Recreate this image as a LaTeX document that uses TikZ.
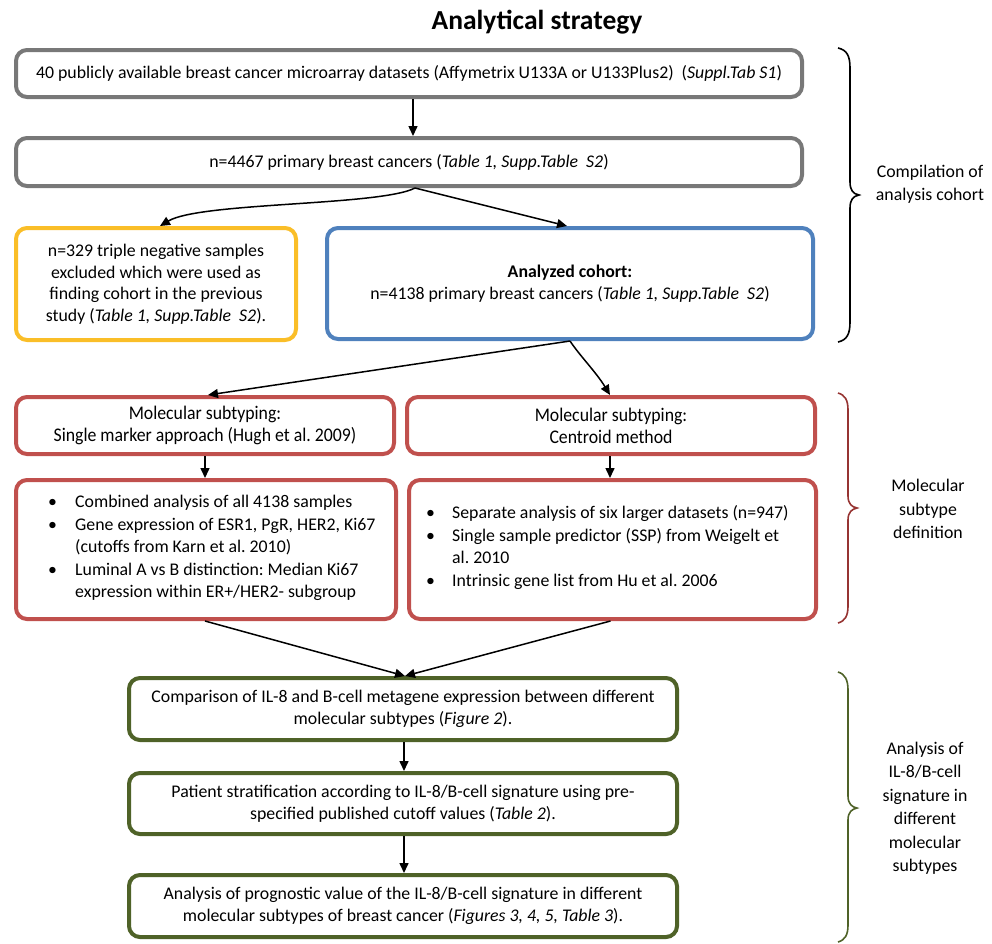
\documentclass[tikz,border=0pt]{standalone}
\usepackage{fontspec}
\setmainfont{Carlito}
\newfontfamily\condfont[FakeStretch=0.92]{Carlito}
\usetikzlibrary{arrows.meta}
\definecolor{cgray}{RGB}{120,120,120}
\definecolor{cyellow}{RGB}{250,190,40}
\definecolor{cblue}{RGB}{79,129,189}
\definecolor{cred}{RGB}{192,80,77}
\definecolor{cdred}{RGB}{150,52,50}
\definecolor{cgreen}{RGB}{79,98,40}
\tikzset{
  box/.style={draw, line width=4pt, rounded corners=11pt, fill=white, align=center, inner sep=0pt},
  arr/.style={line width=1.5pt, -{Triangle[length=10pt,width=9pt]}},
  brace/.style={line width=1.6pt},
  lbl/.style={align=center, font=\fontsize{17.8}{23.5}\selectfont},
  bl/.style={anchor=west, inner sep=0pt, align=left}
}
\begin{document}
\frenchspacing
\begin{tikzpicture}[x=1pt,y=-1pt, font=\fontsize{17.8}{21.5}\selectfont]
\useasboundingbox (0,0) rectangle (992,943);
\node (title) at (537,22) {\fontsize{27.5}{32}\selectfont\bfseries Analytical strategy};

\node[box, draw=cgray, minimum width=786pt, minimum height=47pt] (b1) at (409,73.5)
  {40 publicly available breast cancer microarray datasets (Affymetrix U133A or U133Plus2)~~(\textit{Suppl.Tab S1})};
\node[box, draw=cgray, minimum width=786pt, minimum height=48pt] (b2) at (409,162)
  {n=4467 primary breast cancers (\textit{Table 1, Supp.Table~~S2})};
\node[box, draw=cyellow, minimum width=280pt, minimum height=112pt] (yel) at (156,284)
  {n=329 triple negative samples\\excluded which were used as\\finding cohort in the previous\\study (\textit{Table 1, Supp.Table~~S2}).};
\node[box, draw=cblue, minimum width=486pt, minimum height=111pt] (blu) at (570,283.5)
  {\textbf{Analyzed cohort:}\\n=4138 primary breast cancers (\textit{Table 1, Supp.Table~~S2})};

\node[box, draw=cred, minimum width=378pt, minimum height=57pt, font=\condfont\fontsize{19.3}{22}\selectfont] (r1) at (205,425.5)
  {Molecular subtyping:\\Single marker approach (Hugh et al. 2009)};
\node[box, draw=cred, minimum width=408pt, minimum height=57pt, font=\condfont\fontsize{19.3}{22}\selectfont] (r2) at (611,425.5)
  {Molecular subtyping:\\Centroid method};
\node[box, draw=cred, minimum width=380pt, minimum height=139pt] (r3) at (206,549.5) {};
\node[box, draw=cred, minimum width=407pt, minimum height=139pt] (r4) at (612.5,549.5) {};
\node[bl, font=\fontsize{17.8}{22.5}\selectfont] (r3t) at (48,548)
  {\begin{tabular}{@{}p{27pt}@{}l@{}}
  \textbullet & Combined analysis of all 4138 samples\\
  \textbullet & Gene expression of ESR1, PgR, HER2, Ki67\\
   & (cutoffs from Karn et al. 2010)\\
  \textbullet & Luminal A vs B distinction: Median Ki67\\
   & expression within ER+/HER2- subgroup
  \end{tabular}};
\node[bl, font=\fontsize{17.8}{22.5}\selectfont] (r4t) at (426,548)
  {\begin{tabular}{@{}p{26pt}@{}l@{}}
  \textbullet & Separate analysis of six larger datasets (n=947)\\
  \textbullet & Single sample predictor (SSP) from Weigelt et\\
   & al. 2010\\
  \textbullet & Intrinsic gene list from Hu et al. 2006
  \end{tabular}};

\node[box, draw=cgreen, minimum width=548pt, minimum height=62pt] (g1) at (403,709)
  {Comparison of IL-8 and B-cell metagene expression between different\\molecular subtypes (\textit{Figure 2}).};
\node[box, draw=cgreen, minimum width=548pt, minimum height=61pt] (g2) at (403,803.5)
  {Patient stratification according to IL-8/B-cell signature using pre-\\specified published cutoff values (\textit{Table 2}).};
\node[box, draw=cgreen, minimum width=548pt, minimum height=62pt] (g3) at (403,906)
  {Analysis of prognostic value of the IL-8/B-cell signature in different\\molecular subtypes of breast cancer (\textit{Figures 3, 4, 5, Table 3}).};

% connectors
\draw[arr] ([xshift=4pt]b1.south) -- ([xshift=4pt]b2.north);
\coordinate (split1) at ([xshift=6pt]b2.south);
\draw[arr] (split1) .. controls (380,206) and (200,202) .. ([xshift=4pt]yel.north);
\draw[arr] (split1) -- ([xshift=-3pt]blu.north);
\draw[arr] (blu.south) -- ([xshift=3pt]r1.north);
\draw[arr] (blu.south) .. controls (580,356) and (596,372) .. ([xshift=-1pt]r2.north);
\draw[arr] (r1.south) -- (r1.south |- r3.north);
\draw[arr] ([xshift=-1pt]r2.south) -- ([xshift=-1pt]r2.south |- r4.north);
\draw[arr] ([xshift=-1pt]r3.south) -- ([xshift=2pt]g1.north);
\draw[arr] ([xshift=-2pt]r4.south) -- ([xshift=2pt]g1.north);
\draw[arr] ([xshift=1pt]g1.south) -- ([xshift=1pt]g2.north);
\draw[arr] ([xshift=1pt]g2.south) -- ([xshift=1pt]g3.north);

% braces
\draw[brace, black] (838,48) .. controls (847,50) and (850,56) .. (850,68) -- (850,182)
  .. controls (850,190) and (853,194) .. (859,195) .. controls (853,196) and (850,200) .. (850,208)
  -- (850,322) .. controls (850,334) and (847,340) .. (838,342);
\node[lbl] (lab1) at (930,184) {Compilation of\\analysis cohort};

\draw[brace, cdred] (838,393) .. controls (845,395) and (848,400) .. (848,410) -- (848,496)
  .. controls (848,504) and (852,507) .. (857,508) .. controls (852,509) and (848,512) .. (848,520)
  -- (848,606) .. controls (848,616) and (845,621) .. (838,623);
\node[lbl] (lab2) at (928,509) {Molecular\\subtype\\definition};

\draw[brace, cgreen] (838,672) .. controls (845,674) and (848,680) .. (848,690) -- (848,796)
  .. controls (848,804) and (852,807) .. (857,808) .. controls (852,809) and (848,812) .. (848,820)
  -- (848,925) .. controls (848,935) and (845,940) .. (838,942);
\node[lbl] (lab3) at (925,808) {Analysis of\\IL-8/B-cell\\signature in\\different\\molecular\\subtypes};
\end{tikzpicture}
\end{document}
